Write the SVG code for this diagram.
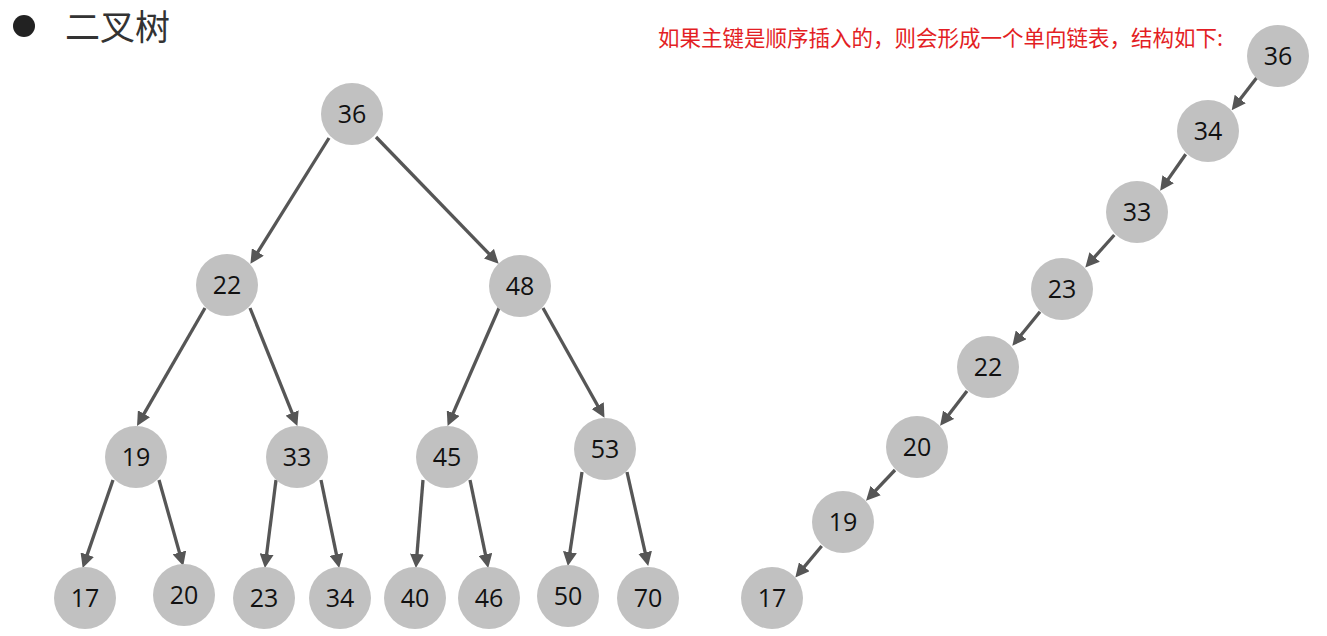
<svg xmlns="http://www.w3.org/2000/svg" width="1327" height="636" viewBox="0 0 1327 636">
<style>
.node circle{fill:#c1c1c1;}
.node text{font-family:"Open Sans","Liberation Sans",sans-serif;font-size:25px;fill:#111;text-anchor:middle;}
.edge{stroke:#565656;stroke-width:3.3;fill:none;marker-end:url(#ah);}
.title{font-family:"Noto Sans CJK SC",sans-serif;font-size:35px;fill:#333;}
.note{font-family:"Noto Sans CJK SC",sans-serif;font-size:21.5px;fill:#e31e24;}
</style>
<defs>
<marker id="ah" viewBox="0 0 14 14" refX="5" refY="7" markerWidth="14" markerHeight="14" markerUnits="userSpaceOnUse" orient="auto">
<path d="M0,0 L14,7 L0,14 z" fill="#565656"/>
</marker>
</defs>
<rect width="1327" height="636" fill="#fff"/>
<circle cx="24" cy="26" r="11" fill="#222"/>
<text class="title" x="65" y="40">二叉树</text>
<text class="note" x="658" y="46">如果主键是顺序插入的，则会形成一个单向链表，结构如下:</text>
<g id="connectors">
<path class="edge" d="M329,138 L255.2,256.2"/>
<path class="edge" d="M376,137 L492.4,257.3"/>
<path class="edge" d="M205,308 L141.5,418.1"/>
<path class="edge" d="M250,308 L294,417.6"/>
<path class="edge" d="M499,308 L451.2,417.7"/>
<path class="edge" d="M543,308 L600.1,410"/>
<path class="edge" d="M113,480 L85.6,559.4"/>
<path class="edge" d="M159,480 L180.8,557.3"/>
<path class="edge" d="M276,480 L266,559.1"/>
<path class="edge" d="M321,480 L337.4,559.2"/>
<path class="edge" d="M423,480 L416.6,559"/>
<path class="edge" d="M470,480 L486.4,559.2"/>
<path class="edge" d="M582,472 L569.2,557.1"/>
<path class="edge" d="M627,472 L646.2,557.2"/>
<path class="edge" d="M1256.7,77.7 L1237.2,103"/>
<path class="edge" d="M1185.7,154.3 L1165.3,183.4"/>
<path class="edge" d="M1114.3,235 L1091.3,260.7"/>
<path class="edge" d="M1040,311.7 L1018,338.8"/>
<path class="edge" d="M967,391 L945.6,418.7"/>
<path class="edge" d="M895,470 L872.2,494.2"/>
<path class="edge" d="M821.7,546 L801.1,570.6"/>
</g>
<g id="t36" class="node"><circle cx="352" cy="114" r="31"/><text x="352" y="123">36</text></g>
<g id="t22" class="node"><circle cx="227" cy="285" r="31"/><text x="227" y="294">22</text></g>
<g id="t48" class="node"><circle cx="520" cy="286" r="31"/><text x="520" y="295">48</text></g>
<g id="t19" class="node"><circle cx="136" cy="457" r="31"/><text x="136" y="466">19</text></g>
<g id="t33" class="node"><circle cx="297" cy="457" r="31"/><text x="297" y="466">33</text></g>
<g id="t45" class="node"><circle cx="447" cy="457" r="31"/><text x="447" y="466">45</text></g>
<g id="t53" class="node"><circle cx="605" cy="449" r="31"/><text x="605" y="458">53</text></g>
<g id="t17" class="node"><circle cx="85" cy="598" r="31"/><text x="85" y="607">17</text></g>
<g id="t20" class="node"><circle cx="184" cy="595" r="31"/><text x="184" y="604">20</text></g>
<g id="t23" class="node"><circle cx="264" cy="598" r="31"/><text x="264" y="607">23</text></g>
<g id="t34" class="node"><circle cx="340" cy="598" r="31"/><text x="340" y="607">34</text></g>
<g id="t40" class="node"><circle cx="415" cy="598" r="31"/><text x="415" y="607">40</text></g>
<g id="t46" class="node"><circle cx="489" cy="598" r="31"/><text x="489" y="607">46</text></g>
<g id="t50" class="node"><circle cx="568" cy="596" r="31"/><text x="568" y="605">50</text></g>
<g id="t70" class="node"><circle cx="648" cy="598" r="31"/><text x="648" y="607">70</text></g>
<g id="c36" class="node"><circle cx="1278" cy="56" r="31"/><text x="1278" y="65">36</text></g>
<g id="c34" class="node"><circle cx="1208" cy="131" r="31"/><text x="1208" y="140">34</text></g>
<g id="c33" class="node"><circle cx="1137" cy="212" r="31"/><text x="1137" y="221">33</text></g>
<g id="c23" class="node"><circle cx="1062" cy="289" r="31"/><text x="1062" y="298">23</text></g>
<g id="c22" class="node"><circle cx="988" cy="367" r="31"/><text x="988" y="376">22</text></g>
<g id="c20" class="node"><circle cx="917" cy="447" r="31"/><text x="917" y="456">20</text></g>
<g id="c19" class="node"><circle cx="843" cy="522" r="31"/><text x="843" y="531">19</text></g>
<g id="c17" class="node"><circle cx="772" cy="598" r="31"/><text x="772" y="607">17</text></g>
</svg>
